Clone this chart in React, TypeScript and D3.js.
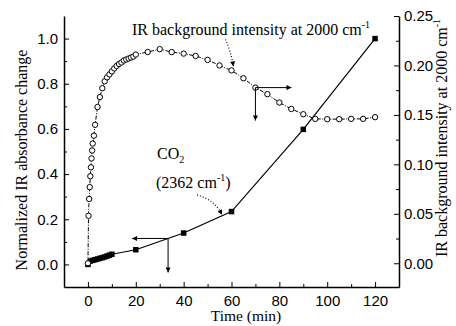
import React, { useRef, useEffect } from "react";
import * as d3 from "d3";

// IR background intensity at 2000 cm-1 (right axis), open circles
const timesIR = [
  0, 0.25, 0.5, 0.75, 1, 1.25, 1.5, 1.75, 2, 2.5, 3, 4, 5, 6, 7, 8, 9, 10, 11,
  12, 13, 14, 15, 16, 17, 18, 19, 20, 25, 30, 35, 40, 45, 50, 55, 60, 65, 70,
  75, 80, 85, 90, 95, 100, 105, 110, 115, 120,
];
const valuesIR = [
  0.0, 0.048, 0.065, 0.077, 0.088, 0.097, 0.106, 0.114, 0.121, 0.129, 0.14,
  0.158, 0.168, 0.177, 0.184, 0.188, 0.191, 0.194, 0.197, 0.1995, 0.2015,
  0.203, 0.205, 0.206, 0.207, 0.208, 0.209, 0.211, 0.2136, 0.2165, 0.2135,
  0.212, 0.2096, 0.2056, 0.2, 0.195, 0.187, 0.1776, 0.171, 0.1625, 0.156,
  0.1507, 0.146, 0.1457, 0.1457, 0.146, 0.146, 0.1477,
];

// CO2 (2362 cm-1) normalized absorbance change (left axis), filled squares
const timesCO2 = [0, 1, 2, 3, 4, 5, 6, 7, 8, 9, 10, 20, 40, 60, 90, 120];
const valuesCO2 = [
  0.0, 0.015, 0.018, 0.021, 0.024, 0.027, 0.03, 0.033, 0.037, 0.041, 0.045,
  0.065, 0.139, 0.234, 0.598, 1.0,
];

const xTicks = [0, 20, 40, 60, 80, 100, 120];
const xMinor = [10, 30, 50, 70, 90, 110];
const leftTicks = [0, 0.2, 0.4, 0.6, 0.8, 1.0];
const leftMinor = [0.1, 0.3, 0.5, 0.7, 0.9];
const rightTicks = [0, 0.05, 0.1, 0.15, 0.2, 0.25];
const rightMinor = [0.025, 0.075, 0.125, 0.175, 0.225];

const serif = "'Liberation Serif', 'Times New Roman', serif";
const sans = "'Liberation Sans', Arial, sans-serif";

const App = () => {
  const svgRef = useRef<SVGSVGElement>(null);

  useEffect(() => {
    const svg = d3.select(svgRef.current);
    svg.selectAll("*").remove();

    const left = 64,
      right = 399,
      top = 16,
      bottom = 287;

    const x = d3.scaleLinear().domain([-10, 130]).range([left, right]);
    const yL = d3.scaleLinear().domain([-0.1, 1.1]).range([bottom, top]);
    const yR = d3.scaleLinear().domain([-0.024, 0.25]).range([bottom, top]);

    const defs = svg.append("defs");
    defs
      .append("marker")
      .attr("id", "head")
      .attr("markerUnits", "userSpaceOnUse")
      .attr("viewBox", "0 0 10 10")
      .attr("refX", 10)
      .attr("refY", 5)
      .attr("markerWidth", 9)
      .attr("markerHeight", 5)
      .attr("orient", "auto")
      .append("path")
      .attr("d", "M0,0 L10,5 L0,10 Z")
      .attr("fill", "#000");

    const styleAxis = (g) => {
      g.select(".domain").attr("stroke-width", 1.5);
      g.selectAll(".tick line").attr("stroke-width", 1);
      g.selectAll("text")
        .attr("font-family", sans)
        .attr("font-size", 15)
        .attr("fill", "#000");
    };

    // left axis
    svg
      .append("g")
      .attr("transform", `translate(${left},0)`)
      .call(
        d3
          .axisLeft(yL)
          .tickValues(leftTicks)
          .tickFormat(d3.format(".1f"))
          .tickSizeInner(-5)
          .tickSizeOuter(0)
          .tickPadding(6)
      )
      .call(styleAxis);
    svg
      .append("g")
      .attr("transform", `translate(${left},0)`)
      .call(d3.axisLeft(yL).tickValues(leftMinor).tickFormat(() => "").tickSize(-3))
      .call((g) => g.select(".domain").remove());

    // right axis
    svg
      .append("g")
      .attr("transform", `translate(${right},0)`)
      .call(
        d3
          .axisRight(yR)
          .tickValues(rightTicks)
          .tickFormat(d3.format(".2f"))
          .tickSizeInner(-5)
          .tickSizeOuter(0)
          .tickPadding(5)
      )
      .call(styleAxis);
    svg
      .append("g")
      .attr("transform", `translate(${right},0)`)
      .call(d3.axisRight(yR).tickValues(rightMinor).tickFormat(() => "").tickSize(-3))
      .call((g) => g.select(".domain").remove());

    // bottom axis
    svg
      .append("g")
      .attr("transform", `translate(0,${bottom})`)
      .call(
        d3
          .axisBottom(x)
          .tickValues(xTicks)
          .tickSizeInner(-5)
          .tickSizeOuter(0)
          .tickPadding(8)
      )
      .call(styleAxis);
    svg
      .append("g")
      .attr("transform", `translate(0,${bottom})`)
      .call(d3.axisBottom(x).tickValues(xMinor).tickFormat(() => "").tickSize(-3))
      .call((g) => g.select(".domain").remove());

    // axis titles
    svg
      .append("text")
      .attr("x", 246)
      .attr("y", 321)
      .attr("text-anchor", "middle")
      .attr("font-family", serif)
      .attr("font-size", 15.5)
      .text("Time (min)");
    svg
      .append("text")
      .attr("transform", "translate(27,160) rotate(-90)")
      .attr("text-anchor", "middle")
      .attr("font-family", serif)
      .attr("font-size", 16)
      .text("Normalized IR absorbance change");
    const rt = svg
      .append("text")
      .attr("transform", "translate(447,138) rotate(-90)")
      .attr("text-anchor", "middle")
      .attr("font-family", serif)
      .attr("font-size", 16);
    rt.append("tspan").text("IR background intensity at 2000 cm");
    rt.append("tspan").attr("dy", -7).attr("font-size", 10).text("-1");

    const irData = timesIR.map((t, i) => [t, valuesIR[i]]);
    const co2Data = timesCO2.map((t, i) => [t, valuesCO2[i]]);

    // CO2 line + squares
    svg
      .append("path")
      .datum(co2Data)
      .attr("fill", "none")
      .attr("stroke", "#000")
      .attr("stroke-width", 1.2)
      .attr(
        "d",
        d3
          .line()
          .x((d) => x(d[0]))
          .y((d) => yL(d[1]))
      );
    const sq = 5.5;
    svg
      .append("g")
      .selectAll("rect")
      .data(co2Data)
      .join("rect")
      .attr("x", (d) => x(d[0]) - sq / 2)
      .attr("y", (d) => yL(d[1]) - sq / 2)
      .attr("width", sq)
      .attr("height", sq)
      .attr("fill", "#000");

    // IR background line + circles
    svg
      .append("path")
      .datum(irData)
      .attr("fill", "none")
      .attr("stroke", "#000")
      .attr("stroke-width", 1)
      .attr("stroke-dasharray", "4 1.5 1 1.5")
      .attr(
        "d",
        d3
          .line()
          .x((d) => x(d[0]))
          .y((d) => yR(d[1]))
      );
    svg
      .append("g")
      .selectAll("circle")
      .data(irData)
      .join("circle")
      .attr("cx", (d) => x(d[0]))
      .attr("cy", (d) => yR(d[1]))
      .attr("r", 2.7)
      .attr("fill", "#fff")
      .attr("stroke", "#000")
      .attr("stroke-width", 1);

    // annotation: IR background
    const irLbl = svg
      .append("text")
      .attr("x", 132)
      .attr("y", 35)
      .attr("font-family", serif)
      .attr("font-size", 16);
    irLbl.append("tspan").text("IR background intensity at 2000 cm");
    irLbl.append("tspan").attr("dy", -7).attr("font-size", 10).text("-1");

    const p60x = x(60),
      p60y = yR(valuesIR[timesIR.indexOf(60)]);
    svg
      .append("path")
      .attr(
        "d",
        `M${p60x - 6},${p60y - 31} Q${p60x - 1},${p60y - 20} ${p60x + 2},${p60y - 4}`
      )
      .attr("fill", "none")
      .attr("stroke", "#000")
      .attr("stroke-width", 1.2)
      .attr("stroke-dasharray", "1 2")
      .attr("marker-end", "url(#head)");

    // arrows from IR point at 70 min
    const a70x = x(70),
      a70y = yR(valuesIR[timesIR.indexOf(70)]);
    svg
      .append("line")
      .attr("x1", a70x)
      .attr("y1", a70y)
      .attr("x2", a70x + 36)
      .attr("y2", a70y)
      .attr("stroke", "#000")
      .attr("marker-end", "url(#head)");
    svg
      .append("line")
      .attr("x1", a70x)
      .attr("y1", a70y)
      .attr("x2", a70x)
      .attr("y2", a70y + 33)
      .attr("stroke", "#000")
      .attr("marker-end", "url(#head)");

    // annotation: CO2
    const co2Lbl = svg
      .append("text")
      .attr("x", 157)
      .attr("y", 159)
      .attr("font-family", serif)
      .attr("font-size", 16);
    co2Lbl.append("tspan").text("CO");
    co2Lbl.append("tspan").attr("dy", 4).attr("font-size", 10).text("2");
    const wnLbl = svg
      .append("text")
      .attr("x", 156)
      .attr("y", 188)
      .attr("font-family", serif)
      .attr("font-size", 16);
    wnLbl.append("tspan").text("(2362 cm");
    wnLbl.append("tspan").attr("dy", -7).attr("font-size", 10).text("-1");
    wnLbl.append("tspan").attr("dy", 7).text(")");

    const c56x = x(56),
      c56y = yL(d3.interpolateNumber(valuesCO2[12], valuesCO2[13])(0.8));
    svg
      .append("path")
      .attr(
        "d",
        `M${c56x - 25},${c56y - 21} Q${c56x - 7},${c56y - 16} ${c56x},${c56y - 1}`
      )
      .attr("fill", "none")
      .attr("stroke", "#000")
      .attr("stroke-width", 1.2)
      .attr("stroke-dasharray", "1 2")
      .attr("marker-end", "url(#head)");

    // arrows from CO2 line at ~33.5 min
    const tA = 33.5;
    const aX = x(tA),
      aY = yL(
        d3.interpolateNumber(valuesCO2[11], valuesCO2[12])((tA - 20) / 20)
      );
    svg
      .append("line")
      .attr("x1", aX)
      .attr("y1", aY)
      .attr("x2", aX - 36)
      .attr("y2", aY)
      .attr("stroke", "#000")
      .attr("marker-end", "url(#head)");
    svg
      .append("line")
      .attr("x1", aX)
      .attr("y1", aY)
      .attr("x2", aX)
      .attr("y2", aY + 34)
      .attr("stroke", "#000")
      .attr("marker-end", "url(#head)");
  }, []);

  return (
    <svg
      ref={svgRef}
      width={456}
      height={326}
      style={{ position: "absolute", left: 0, top: 0, background: "#fff" }}
    />
  );
};

export default App;
